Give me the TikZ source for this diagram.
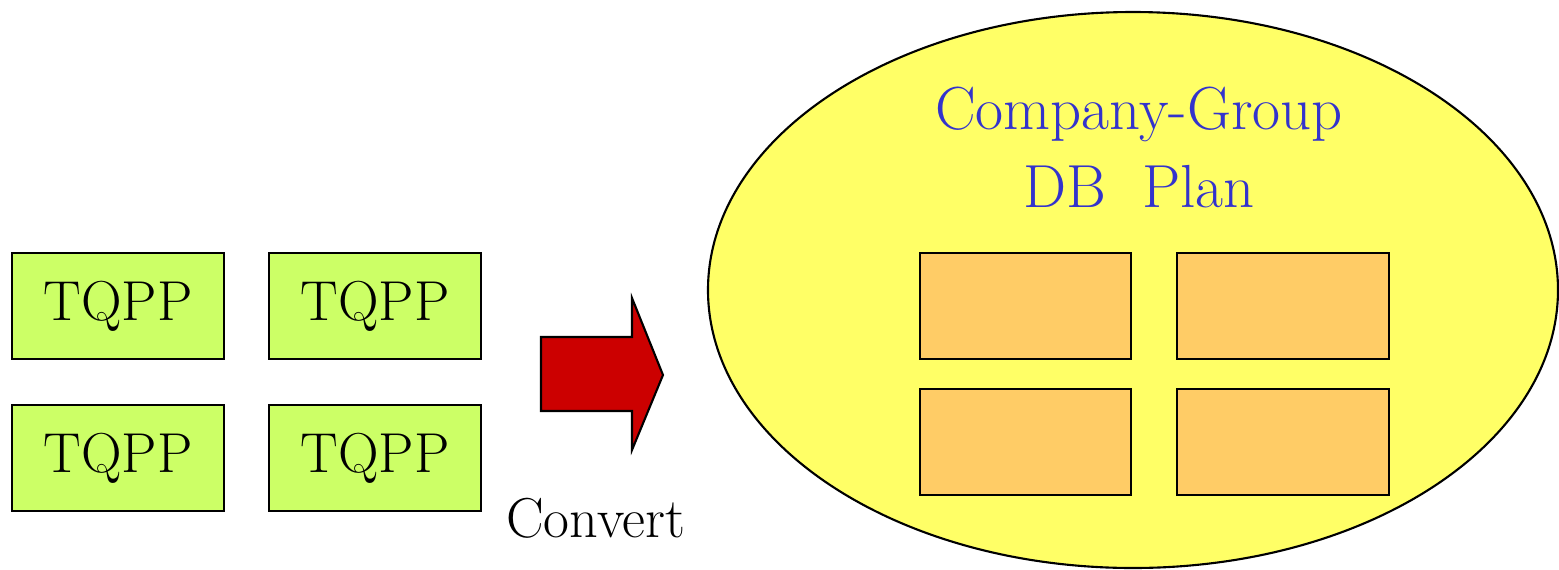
\documentclass[tikz,border=0pt]{standalone}
\usepackage{tikz}
\definecolor{plangreen}{HTML}{CCFF66}
\definecolor{planyellow}{HTML}{FFFF66}
\definecolor{planorange}{HTML}{FFCC66}
\definecolor{arrowred}{HTML}{CC0000}
\definecolor{titleblue}{HTML}{3333CC}
\tikzset{
  tqpp/.style={draw=black, fill=plangreen, line width=0.6pt, minimum width=2.12cm, minimum height=1.06cm, inner sep=0pt, font=\fontsize{16}{19}\selectfont},
  slot/.style={draw=black, fill=planorange, line width=0.6pt, minimum width=2.11cm, minimum height=1.06cm, inner sep=0pt},
  caption/.style={font=\fontsize{16}{19}\selectfont, inner sep=0pt},
  title/.style={font=\fontsize{17.3}{20}\selectfont, text=titleblue, inner sep=0pt, anchor=base}
}
\begin{document}
\begin{tikzpicture}[x=0.01cm, y=-0.01cm]
\useasboundingbox (0,0) rectangle (1559,569);
\clip (0,0) rectangle (1559,569);
% the group plan
\draw[fill=planyellow, line width=0.6pt] (1133,290) ellipse [x radius=425, y radius=278];
\node[title] (title1) at (1139,129) {Company-Group};
\node[title] (title2) at (1139,207) {DB\ \ Plan};
\node[slot] (s1) at (1025.5,306) {};
\node[slot] (s2) at (1283,306) {};
\node[slot] (s3) at (1025.5,442) {};
\node[slot] (s4) at (1283,442) {};
% individual plans
\node[tqpp] (t1) at (118,306) {TQPP};
\node[tqpp] (t2) at (375,306) {TQPP};
\node[tqpp] (t3) at (118,458) {TQPP};
\node[tqpp] (t4) at (375,458) {TQPP};
% conversion arrow
\draw[fill=arrowred, line width=0.6pt, line join=miter]
  (541,337) -- (632,337) -- (632,298) -- (663,375) -- (632,450) -- (632,411) -- (541,411) -- cycle;
\node[caption, anchor=base] (conv) at (596,537) {Convert};
\end{tikzpicture}
\end{document}
